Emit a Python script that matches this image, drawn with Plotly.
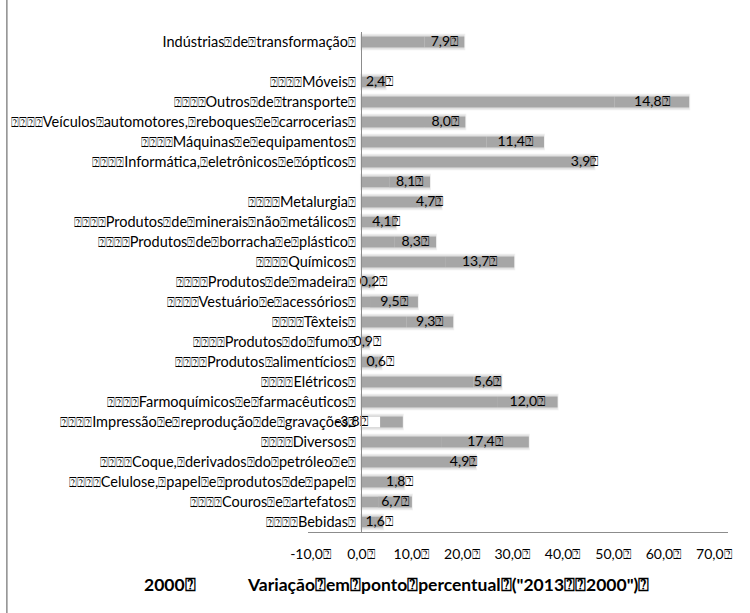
import plotly.graph_objects as go

BOX = "\u2370"                                   # quad-question glyph
SBOX = '<span style="font-size:12.5px">' + BOX + "</span>"   # narrower version for category names
LEAD = SBOX * 4

# Categories, top to bottom (one empty spacer row after the industry total)
categories = [
    "Indústrias" + SBOX + "de" + SBOX + "transformação" + SBOX,
    " ",
    LEAD + "Móveis" + SBOX,
    LEAD + "Outros" + SBOX + "de" + SBOX + "transporte" + SBOX,
    LEAD + "Veículos" + SBOX + "automotores," + SBOX + "reboques" + SBOX + "e" + SBOX + "carrocerias" + SBOX,
    LEAD + "Máquinas" + SBOX + "e" + SBOX + "equipamentos" + SBOX,
    LEAD + "Informática," + SBOX + "eletrônicos" + SBOX + "e" + SBOX + "ópticos" + SBOX,
    "  ",
    LEAD + "Metalurgia" + SBOX,
    LEAD + "Produtos" + SBOX + "de" + SBOX + "minerais" + SBOX + "não" + SBOX + "metálicos" + SBOX,
    LEAD + "Produtos" + SBOX + "de" + SBOX + "borracha" + SBOX + "e" + SBOX + "plástico" + SBOX,
    LEAD + "Químicos" + SBOX,
    LEAD + "Produtos" + SBOX + "de" + SBOX + "madeira" + SBOX,
    LEAD + "Vestuário" + SBOX + "e" + SBOX + "acessórios" + SBOX,
    LEAD + "Têxteis" + SBOX,
    LEAD + "Produtos" + SBOX + "do" + SBOX + "fumo" + SBOX,
    LEAD + "Produtos" + SBOX + "alimentícios" + SBOX,
    LEAD + "Elétricos" + SBOX,
    LEAD + "Farmoquímicos" + SBOX + "e" + SBOX + "farmacêuticos" + SBOX,
    LEAD + "Impressão" + SBOX + "e" + SBOX + "reprodução" + SBOX + "de" + SBOX + "gravações" + SBOX,
    LEAD + "Diversos" + SBOX,
    LEAD + "Coque," + SBOX + "derivados" + SBOX + "do" + SBOX + "petróleo" + SBOX + "e" + SBOX,
    LEAD + "Celulose," + SBOX + "papel" + SBOX + "e" + SBOX + "produtos" + SBOX + "de" + SBOX + "papel" + SBOX,
    LEAD + "Couros" + SBOX + "e" + SBOX + "artefatos" + SBOX,
    LEAD + "Bebidas" + SBOX,
]

# Level in 2000
values_2000 = [12.6, None, 2.5, 50.3, 12.7, 24.9, 42.4, 5.6, 11.3, 2.9, 6.6, 16.7,
               2.4, 1.8, 9.0, 0.8, 3.5, 22.3, 27.0, 8.3, 15.9, 17.9, 6.8, 3.4, 2.8]

# Change in percentage points (2013 - 2000)
variation = [7.9, None, 2.4, 14.8, 8.0, 11.4, 3.9, 8.1, 4.7, 4.1, 8.3, 13.7,
             0.2, 9.5, 9.3, 0.9, 0.6, 5.6, 12.0, -3.8, 17.4, 4.9, 1.8, 6.7, 1.6]

x_ticks = [-10, 0, 10, 20, 30, 40, 50, 60, 70]
x_range = [-10.5, 72.8]

legend_names = ["2000" + BOX,
                "Variação" + BOX + "em" + BOX + "ponto" + BOX + "percentual" + BOX
                + "(\"2013" + BOX + BOX + "2000\")" + BOX]

FONT = "Lato"
BAR = "#a6a6a6"


def fmt(v):
    return f"{v:.1f}".replace(".", ",") + BOX


# stacked positions: positive changes sit on top of the 2000 level,
# negative changes hang from zero (inverted fill)
var_base = []
var_color = []
label_x = []
label_txt = []
totals = []
for b, v in zip(values_2000, variation):
    if v is None:
        var_base.append(None); var_color.append(BAR)
        label_x.append(None); label_txt.append("")
        totals.append(None)
        continue
    b0 = b or 0
    if v >= 0:
        var_base.append(b0); var_color.append(BAR)
        label_x.append(b0 + v / 2)
        totals.append(b0 + v)
    else:
        var_base.append(0); var_color.append("#ffffff")
        label_x.append(v / 2)
        totals.append(b0)
    label_txt.append(fmt(v))

fig = go.Figure()

# soft shadow under each bar
fig.add_trace(go.Bar(
    y=categories, x=totals, base=0, orientation="h", width=0.72,
    marker=dict(color="rgba(200,200,200,0.5)", line=dict(width=2, color="rgba(222,222,222,0.45)")),
    showlegend=False, hoverinfo="skip"))

fig.add_trace(go.Bar(
    y=categories, x=values_2000, base=0, orientation="h", width=0.54,
    marker=dict(color=BAR, line=dict(width=0)), name=legend_names[0], showlegend=False))

fig.add_trace(go.Bar(
    y=categories, x=[abs(v) if v is not None else None for v in variation], base=var_base,
    orientation="h", width=0.54,
    marker=dict(color=var_color, line=dict(width=0)), name=legend_names[1], showlegend=False))

fig.add_trace(go.Scatter(
    y=categories, x=label_x, text=label_txt, mode="text", textposition="middle center",
    textfont=dict(family=FONT, size=14, color="#000000"), showlegend=False, hoverinfo="skip"))

zero_pos = (0 - x_range[0]) / (x_range[1] - x_range[0])
n = len(categories)

fig.update_layout(
    width=750, height=613,
    margin=dict(l=308, r=22, t=32, b=81),
    paper_bgcolor="white", plot_bgcolor="white",
    barmode="overlay",
    font=dict(family=FONT, size=14.5, color="#000000"),
    xaxis=dict(range=x_range, tickvals=x_ticks, ticktext=[fmt(t) for t in x_ticks],
               showgrid=False, zeroline=False, showline=True, linecolor="#8c8c8c",
               linewidth=1, ticks="", ticklabelstandoff=9,
               tickfont=dict(family=FONT, size=14), automargin=False),
    yaxis=dict(type="category", range=[n - 0.5, -0.5], anchor="free", position=zero_pos,
               showgrid=False, zeroline=False, showline=True, linecolor="#8c8c8c",
               linewidth=1, ticks="", ticklabelstandoff=2,
               tickfont=dict(family=FONT, size=14.5), automargin=False),
    shapes=[dict(type="line", xref="paper", yref="paper", x0=-0.717, x1=-0.717,
                 y0=-0.2, y1=1.1, line=dict(color="#8c8c8c", width=1.5))],
    annotations=[
        dict(text="<b>" + legend_names[0] + "</b>", xref="paper", yref="paper",
             x=-0.329, y=-0.105, xanchor="center", yanchor="middle", showarrow=False,
             font=dict(family=FONT, size=17.5)),
        dict(text="<b>" + legend_names[1] + "</b>", xref="paper", yref="paper",
             x=0.333, y=-0.105, xanchor="center", yanchor="middle", showarrow=False,
             font=dict(family=FONT, size=17.5)),
    ],
)

fig.write_html("out.html")
